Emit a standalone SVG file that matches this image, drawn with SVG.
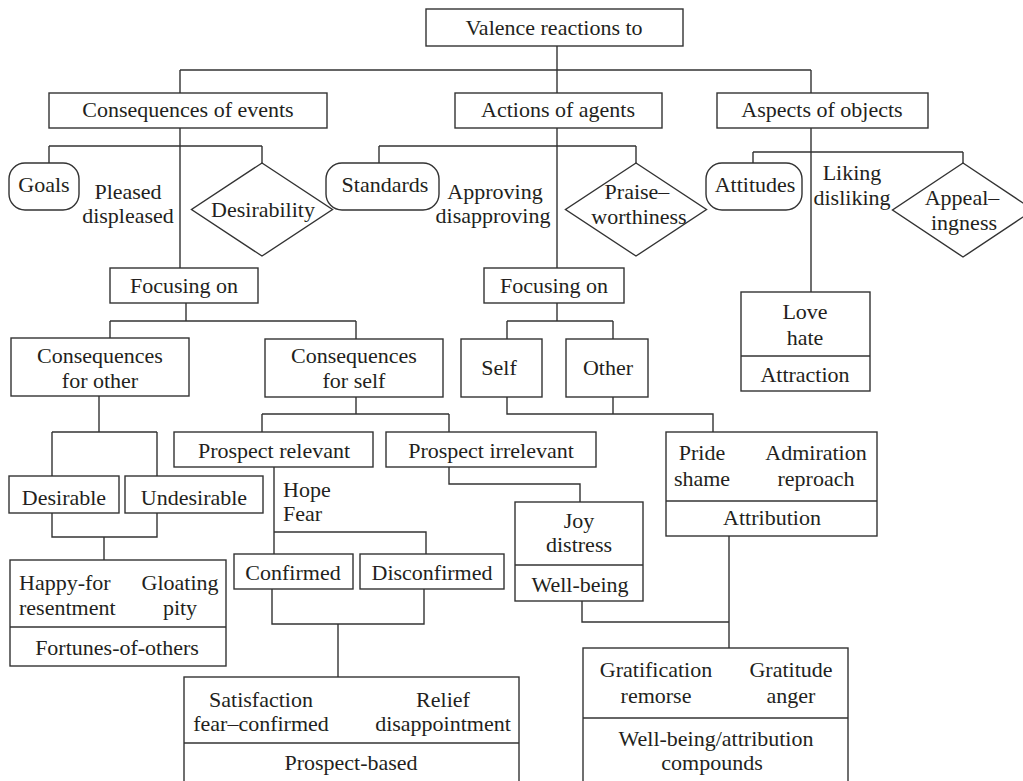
<svg xmlns="http://www.w3.org/2000/svg" width="1023" height="781" viewBox="0 0 1023 781">
<style>
.b{fill:#fff;stroke:#333;stroke-width:1.4}
.c{fill:none;stroke:#333;stroke-width:1.4}
text{font-family:"Liberation Serif","Times New Roman",serif;font-size:22px;fill:#231f20}
.m{text-anchor:middle}
</style>
<rect width="1023" height="781" fill="#fff"/>
<g id="connectors" class="c">
<path d="M557,46V70M180,70H811M180,70V93M557,70V93M811,70V93"/>
<path d="M180,128V268M49,146H262M49,146V163M262,146V163"/>
<path d="M557,128V268M379,146H636M379,146V163M636,146V163"/>
<path d="M811,128V292M753,152H963M753,152V163M963,152V163"/>
<path d="M186,303V321M110,321H356M110,321V338M356,321V339"/>
<path d="M99,396V432M52,432H157M52,432V476M157,432V476"/>
<path d="M52,513V537H157V513M104,537V560"/>
<path d="M356,397V414M262,414H449M262,414V432M449,414V432"/>
<path d="M274,467V554M274,532H426V554"/>
<path d="M272,589V624H424V589M338,624V677"/>
<path d="M557,303V321M507,321H613M507,321V339M613,321V339"/>
<path d="M507,397V414H713V432M613,397V414"/>
<path d="M449,467V484H580V502"/>
<path d="M582,601V622H729M729,536V648"/>
</g>
<g id="valence"><rect class="b" x="426" y="9" width="257" height="37"/><text class="m" x="554" y="35">Valence reactions to</text></g>
<g id="consEvents"><rect class="b" x="49" y="93" width="278" height="35"/><text class="m" x="188" y="117">Consequences of events</text></g>
<g id="actions"><rect class="b" x="455" y="93" width="207" height="35"/><text class="m" x="558" y="117">Actions of agents</text></g>
<g id="aspects"><rect class="b" x="717" y="93" width="211" height="35"/><text class="m" x="822" y="117">Aspects of objects</text></g>
<g id="goals"><rect class="b" x="9" y="163" width="70" height="47" rx="16"/><text class="m" x="44" y="192">Goals</text></g>
<g id="pleased"><text class="m" x="128" y="199">Pleased</text><text class="m" x="128" y="223">displeased</text></g>
<g id="desirability"><polygon class="b" points="262,163 332.5,209.5 262,256 191.5,209.5"/><text class="m" x="263" y="217">Desirability</text></g>
<g id="standards"><rect class="b" x="326" y="163" width="113" height="47" rx="16"/><text class="m" x="385" y="192">Standards</text></g>
<g id="approving"><text class="m" x="495" y="199">Approving</text><text class="m" x="493" y="223">disapproving</text></g>
<g id="praise"><polygon class="b" points="636,163 706.5,209.5 636,256 565.5,209.5"/><text class="m" x="637" y="199">Praise–</text><text class="m" x="639" y="224">worthiness</text></g>
<g id="attitudes"><rect class="b" x="706" y="163" width="96" height="47" rx="16"/><text class="m" x="755" y="192">Attitudes</text></g>
<g id="liking"><text class="m" x="852" y="180">Liking</text><text class="m" x="852" y="205">disliking</text></g>
<g id="appeal"><polygon class="b" points="963,163 1033.5,210 963,257 892.5,210"/><text class="m" x="962" y="205">Appeal–</text><text class="m" x="964" y="230">ingness</text></g>
<g id="focusL"><rect class="b" x="110" y="268" width="148" height="35"/><text class="m" x="184" y="293">Focusing on</text></g>
<g id="focusR"><rect class="b" x="484" y="268" width="140" height="35"/><text class="m" x="554" y="293">Focusing on</text></g>
<g id="loveHate"><rect class="b" x="741" y="292" width="129" height="99"/><path class="c" d="M741,356H870"/><text class="m" x="805" y="319">Love</text><text class="m" x="805" y="345">hate</text><text class="m" x="805" y="382">Attraction</text></g>
<g id="consOther"><rect class="b" x="11" y="338" width="178" height="58"/><text class="m" x="100" y="363">Consequences</text><text class="m" x="100" y="388">for other</text></g>
<g id="consSelf"><rect class="b" x="265" y="339" width="178" height="58"/><text class="m" x="354" y="363">Consequences</text><text class="m" x="354" y="388">for self</text></g>
<g id="self"><rect class="b" x="461" y="339" width="81" height="58"/><text class="m" x="499" y="375">Self</text></g>
<g id="other"><rect class="b" x="566" y="339" width="82" height="58"/><text class="m" x="608" y="375">Other</text></g>
<g id="desirable"><rect class="b" x="9" y="476" width="110" height="37"/><text class="m" x="64" y="505">Desirable</text></g>
<g id="undesirable"><rect class="b" x="125" y="476" width="138" height="37"/><text class="m" x="194" y="505">Undesirable</text></g>
<g id="prospRel"><rect class="b" x="174" y="432" width="199" height="35"/><text class="m" x="274" y="458">Prospect relevant</text></g>
<g id="prospIrr"><rect class="b" x="386" y="432" width="210" height="35"/><text class="m" x="491" y="458">Prospect irrelevant</text></g>
<g id="hopeFear"><text x="283" y="497">Hope</text><text x="283" y="521">Fear</text></g>
<g id="attribution"><rect class="b" x="666" y="432" width="211" height="104"/><path class="c" d="M666,501H877"/><text class="m" x="702" y="460">Pride</text><text class="m" x="702" y="486">shame</text><text class="m" x="816" y="460">Admiration</text><text class="m" x="816" y="486">reproach</text><text class="m" x="772" y="525">Attribution</text></g>
<g id="joy"><rect class="b" x="515" y="502" width="128" height="99"/><path class="c" d="M515,565H643"/><text class="m" x="579" y="528">Joy</text><text class="m" x="579" y="552">distress</text><text class="m" x="580" y="592">Well-being</text></g>
<g id="fortunes"><rect class="b" x="10" y="560" width="216" height="106"/><path class="c" d="M10,627H226"/><text x="19" y="590">Happy-for</text><text x="19" y="615">resentment</text><text class="m" x="180" y="590">Gloating</text><text class="m" x="180" y="615">pity</text><text class="m" x="117" y="655">Fortunes-of-others</text></g>
<g id="confirmed"><rect class="b" x="234" y="554" width="119" height="35"/><text class="m" x="293" y="580">Confirmed</text></g>
<g id="disconfirmed"><rect class="b" x="360" y="554" width="144" height="35"/><text class="m" x="432" y="580">Disconfirmed</text></g>
<g id="prospectBased"><rect class="b" x="184" y="677" width="335" height="120"/><path class="c" d="M184,743H519"/><text class="m" x="261" y="707">Satisfaction</text><text class="m" x="261" y="731">fear–confirmed</text><text class="m" x="443" y="707">Relief</text><text class="m" x="443" y="731">disappointment</text><text class="m" x="351" y="770">Prospect-based</text></g>
<g id="compounds"><rect class="b" x="583" y="648" width="265" height="150"/><path class="c" d="M583,718H848"/><text class="m" x="656" y="677">Gratification</text><text class="m" x="656" y="703">remorse</text><text class="m" x="791" y="677">Gratitude</text><text class="m" x="791" y="703">anger</text><text class="m" x="716" y="746">Well-being/attribution</text><text class="m" x="712" y="770">compounds</text></g>
</svg>
